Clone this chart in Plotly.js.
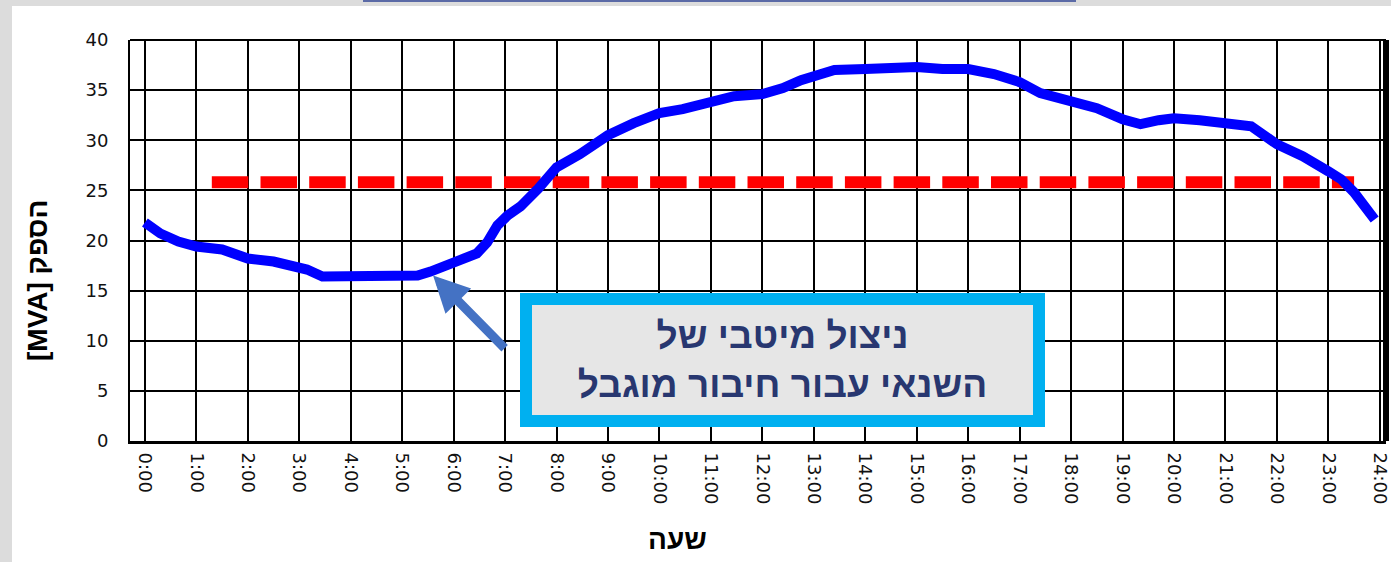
<!DOCTYPE html>
<html>
<head>
<meta charset="utf-8">
<script src="https://cdn.plot.ly/plotly-3.0.1.min.js"></script>
<style>
  html, body { margin: 0; padding: 0; }
  body { width: 1391px; height: 562px; background: #dcdcdc; position: relative; overflow: hidden; }
  #panel { position: absolute; left: 12px; top: 6px; width: 1379px; height: 556px; background: #ffffff; }
  #bar { position: absolute; left: 363px; top: 0; width: 713px; height: 2px; background: #5b6aa6; }
  #chart { position: absolute; left: 0; top: 0; width: 1391px; height: 562px; }
</style>
</head>
<body>
<div id="panel"></div>
<div id="bar"></div>
<div id="chart"></div>
<script>
// Load curve (hour of day, MVA)
const hours = [0.0, 0.3, 0.65, 1.0, 1.5, 2.0, 2.5, 2.85, 3.15, 3.45, 4.0, 4.5, 5.0, 5.3, 5.55, 6.0, 6.45, 6.65, 6.85, 7.05, 7.3, 7.65, 8.0, 8.45, 9.0, 9.5, 10.0, 10.45, 11.0, 11.45, 12.0, 12.4, 12.75, 13.0, 13.4, 14.0, 14.5, 15.0, 15.5, 16.0, 16.5, 17.0, 17.4, 17.75, 18.0, 18.5, 19.0, 19.35, 19.7, 20.0, 20.5, 21.0, 21.5, 22.0, 22.5, 23.0, 23.25, 23.5, 23.75, 23.9];
const load = [21.8, 20.7, 19.9, 19.4, 19.1, 18.2, 17.9, 17.5, 17.1, 16.4, 16.4, 16.4, 16.4, 16.5, 16.9, 17.7, 18.7, 19.8, 21.5, 22.5, 23.4, 25.2, 27.3, 28.6, 30.5, 31.7, 32.7, 33.1, 33.9, 34.4, 34.6, 35.2, 36.0, 36.4, 37.0, 37.1, 37.3, 37.3, 37.1, 37.1, 36.6, 35.8, 34.7, 34.3, 33.9, 33.2, 32.1, 31.6, 32.0, 32.2, 32.0, 31.8, 31.4, 29.6, 28.4, 26.9, 26.1, 24.8, 22.9, 22.1];

// Connection limit (dashed red)
const limitHours = [1.3, 23.5];
const limitLoad = [25.8, 25.8];

// Axis ticks
const xTickVals = [0,1,2,3,4,5,6,7,8,9,10,11,12,13,14,15,16,17,18,19,20,21,22,23,24];
const xTickText = ["0:00","1:00","2:00","3:00","4:00","5:00","6:00","7:00","8:00","9:00","10:00","11:00","12:00","13:00","14:00","15:00","16:00","17:00","18:00","19:00","20:00","21:00","22:00","23:00","24:00"];
const yTickVals = [0,5,10,15,20,25,30,35,40];

// Texts
const xTitle = "שעה";
const yTitle = "[MVA] הספק";
const calloutLines = ["ניצול מיטבי של", "השנאי עבור חיבור מוגבל"];

// Callout positions (data coords)
const arrowTip = [5.6, 16.5];
const arrowTail = [7.02, 9.1];
const boxCenter = [12.4, 8.05];

const traces = [
  {
    x: limitHours, y: limitLoad, type: 'scatter', mode: 'lines',
    line: { color: '#ff0000', width: 12, dash: '36.5px,12.2px' },
    hoverinfo: 'skip', showlegend: false
  },
  {
    x: hours, y: load, type: 'scatter', mode: 'lines',
    line: { color: '#0000ff', width: 10 },
    showlegend: false
  }
];

const tickFont = { family: 'DejaVu Sans, Liberation Sans, Arial, sans-serif', size: 18, color: '#111111' };
const hebFont = 'Liberation Sans, Arial, DejaVu Sans, sans-serif';

const layout = {
  width: 1391, height: 562,
  margin: { l: 130, r: 5, t: 40, b: 121 },
  paper_bgcolor: 'rgba(0,0,0,0)',
  plot_bgcolor: '#ffffff',
  showlegend: false,
  xaxis: {
    range: [-0.29, 24.12],
    tickmode: 'array', tickvals: xTickVals, ticktext: xTickText,
    tickangle: 90,
    tickfont: tickFont,
    showgrid: true, gridcolor: '#000000', gridwidth: 2,
    showline: true, linecolor: '#000000', linewidth: 3,
    zeroline: false, ticks: '', ticklabelstandoff: 5,
    fixedrange: true
  },
  yaxis: {
    range: [0, 40],
    tickmode: 'array', tickvals: yTickVals,
    tickfont: tickFont,
    showgrid: true, gridcolor: '#000000', gridwidth: 2,
    showline: true, linecolor: '#000000', linewidth: 2,
    zeroline: false, ticks: '', ticklabelstandoff: 16,
    fixedrange: true
  },
  shapes: [
    { type: 'line', xref: 'paper', yref: 'paper', x0: 0, x1: 1, y0: 1, y1: 1,
      line: { color: '#000000', width: 2 } },
    { type: 'line', xref: 'paper', yref: 'paper', x0: 1, x1: 1, y0: 0, y1: 1,
      line: { color: '#000000', width: 6 } }
  ],
  annotations: [
    {
      xref: 'paper', yref: 'paper', x: (677 - 130) / 1256, y: -(539 - 441) / 401,
      text: '<b>' + xTitle + '</b>', showarrow: false,
      font: { family: hebFont, size: 28, color: '#000000', weight: 'bold' },
      xanchor: 'center', yanchor: 'middle'
    },
    {
      xref: 'paper', yref: 'paper', x: -(130 - 37) / 1256, y: (441 - 281) / 401,
      text: '<b>' + yTitle + '</b>', showarrow: false, textangle: -90,
      font: { family: hebFont, size: 28, color: '#000000', weight: 'bold' },
      xanchor: 'center', yanchor: 'middle'
    },
    {
      x: arrowTip[0], y: arrowTip[1], xref: 'x', yref: 'y',
      ax: arrowTail[0], ay: arrowTail[1], axref: 'x', ayref: 'y',
      text: '', showarrow: true, arrowhead: 2, arrowsize: 0.8, arrowwidth: 9,
      arrowcolor: '#4472c4', standoff: 0, startstandoff: 0
    },
    {
      x: boxCenter[0], y: boxCenter[1], xref: 'x', yref: 'y',
      text: calloutLines.map(s => '<b>' + s + '</b>').join('<br>'), showarrow: false,
      font: { family: hebFont, size: 37, color: '#283770', weight: 'bold' },
      bgcolor: '#e6e6e6', bordercolor: '#00b0f0', borderwidth: 12, borderpad: 0,
      width: 501, height: 110, align: 'center', valign: 'middle',
      xanchor: 'center', yanchor: 'middle'
    }
  ]
};

Plotly.newPlot('chart', traces, layout, { displayModeBar: false, staticPlot: true });
</script>
</body>
</html>
